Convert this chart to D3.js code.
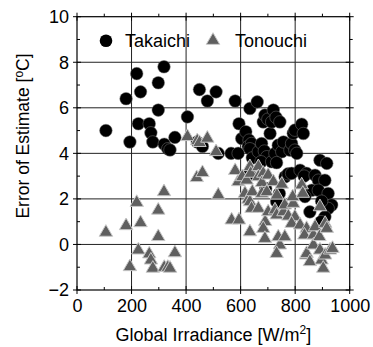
<!DOCTYPE html>
<html>
<head>
<meta charset="utf-8">
<script src="https://cdn.jsdelivr.net/npm/d3@7"></script>
<style>
	body { margin: 0; background: #fff; }
	text { font-family: 'Liberation Sans', Arial, sans-serif; fill: #000; }
</style>
</head>
<body>
<div id="chart"></div>
<script>
// values: [irradiance W/m2, error degC]
const takaichi = [
	[106, 5.0], [180, 6.4], [194, 4.5], [219, 7.5], [225, 5.3], [233, 6.7], [265, 5.3], [271, 4.9],
	[278, 4.5], [298, 7.1], [298, 5.9], [319, 7.8], [320, 4.4], [333, 4.2], [341, 4.15], [359, 4.7],
	[405, 5.6], [449, 6.8], [478, 6.3], [510, 6.7], [441, 4.5], [460, 4.3], [518, 4.0], [565, 4.0],
	[591, 4.0], [580, 6.3], [594, 5.3], [604, 4.65], [619, 4.95], [631, 4.58], [634, 5.97], [628, 4.3],
	[640, 4.43], [646, 4.14], [634, 4.2], [643, 3.8], [632, 3.1], [661, 6.26], [665, 4.07], [677, 4.43],
	[683, 5.38], [689, 5.68], [700, 5.5], [687, 4.1], [696, 3.85], [675, 3.63], [692, 2.46], [708, 4.87],
	[714, 5.38], [720, 5.9], [730, 5.58], [744, 5.38], [714, 3.63], [726, 4.0], [738, 4.36], [751, 4.07],
	[757, 4.5], [732, 3.59], [742, 2.24], [732, 1.87], [763, 2.97], [774, 3.1], [781, 4.14], [787, 4.43],
	[799, 4.14], [806, 4.0], [793, 4.88], [799, 5.02], [824, 5.28], [830, 4.87], [787, 3.12], [818, 3.26],
	[842, 3.12], [833, 3.0], [873, 3.04], [885, 2.82], [909, 2.82], [861, 2.38], [885, 2.38], [921, 2.24],
	[891, 3.7], [916, 3.56], [934, 1.73], [921, 1.58], [897, 1.9], [854, 1.43], [909, 1.21], [895, 1.0],
	[836, 2.1]
];

const tonouchi = [
	[106, 0.53], [180, 0.82], [194, -0.98], [219, 1.84], [225, -0.25], [233, 0.95], [265, -0.42], [271, -0.69],
	[278, -1.05], [298, 1.5], [298, 0.34], [319, 2.31], [320, -1.01], [333, -1.01], [341, -1.05], [359, -0.37],
	[405, 4.73], [441, 4.55], [449, 4.47], [478, 4.66], [439, 2.93], [460, 3.15], [510, 4.07], [518, 2.17],
	[567, 1.07], [594, 1.07], [580, 3.24], [591, 2.75], [606, 2.97], [616, 2.24], [622, 2.82], [634, 3.41],
	[637, 3.12], [628, 1.98], [634, 1.87], [640, 1.58], [643, 2.31], [665, 1.58], [634, 0.55], [665, 3.41],
	[665, 2.97], [683, 3.12], [678, 2.71], [678, 2.24], [696, 2.31], [690, 1.0], [683, 0.7], [689, 0.26],
	[701, 3.04], [701, 1.43], [720, 2.75], [733, 2.16], [726, 1.51], [732, 1.29], [744, -0.03], [732, -0.4],
	[738, 0.33], [762, 0.33], [751, 2.64], [757, 1.43], [762, 1.73], [775, 1.24], [793, 1.8], [791, 2.09],
	[799, 1.21], [787, 0.92], [818, 0.85], [824, 2.61], [828, 2.24], [842, 0.7], [834, 0.41], [840, -0.47],
	[842, -0.4], [854, -0.76], [867, 0.41], [867, -0.03], [873, 0.77], [889, 0.34], [891, -0.25], [897, -0.69],
	[903, -1.05], [891, 1.65], [910, 0.92], [916, 0.7], [910, -0.47], [928, -0.25], [937, -0.18]
];

const xTicks = [0, 200, 400, 600, 800, 1000];
const yTicks = [-2, 0, 2, 4, 6, 8, 10];
const xMinor = [100, 300, 500, 700, 900];
const yMinor = [-1, 1, 3, 5, 7, 9];

const W = 373, H = 347;
const margin = { top: 16.7, right: 23.3, bottom: 57, left: 77 };
const width = W - margin.left - margin.right;
const height = H - margin.top - margin.bottom;

const svg = d3.select('#chart').append('svg')
	.attr('width', W)
	.attr('height', H);

const g = svg.append('g')
	.attr('transform', `translate(${margin.left},${margin.top})`);

const x = d3.scaleLinear().domain([0, 1000]).range([0, width]);
const y = d3.scaleLinear().domain([-2, 10]).range([height, 0]);

//
// grid
//
g.append('g').selectAll('line')
	.data(xTicks.slice(1, -1))
	.enter().append('line')
	.attr('x1', d => x(d)).attr('x2', d => x(d))
	.attr('y1', 0).attr('y2', height)
	.attr('stroke', '#222').attr('stroke-width', 1);

g.append('g').selectAll('line')
	.data(yTicks.slice(1, -1))
	.enter().append('line')
	.attr('y1', d => y(d)).attr('y2', d => y(d))
	.attr('x1', 0).attr('x2', width)
	.attr('stroke', '#222').attr('stroke-width', 1);

//
// axes
//
const fs = 18;
const font = "'Liberation Sans', Arial, sans-serif";

const xAxis = g.append('g')
	.attr('transform', `translate(0,${height})`)
	.call(d3.axisBottom(x).tickValues(xTicks).tickFormat(d3.format('d')).tickSize(0).tickPadding(9));
xAxis.select('.domain').remove();
xAxis.selectAll('text').style('font-size', fs + 'px').style('font-family', font);

const yAxis = g.append('g')
	.call(d3.axisLeft(y).tickValues(yTicks).tickSize(0).tickPadding(8));
yAxis.select('.domain').remove();
yAxis.selectAll('text').style('font-size', fs + 'px').style('font-family', font);

// major ticks crossing the frame, minor ticks pointing right / up
const tk = g.append('g').attr('stroke', '#000').attr('stroke-width', 1);
xTicks.forEach(d => {
	tk.append('line').attr('x1', x(d)).attr('x2', x(d)).attr('y1', height - 4).attr('y2', height + 4);
	tk.append('line').attr('x1', x(d)).attr('x2', x(d)).attr('y1', -4).attr('y2', 4);
});
yTicks.forEach(d => {
	tk.append('line').attr('y1', y(d)).attr('y2', y(d)).attr('x1', -4).attr('x2', 4);
	tk.append('line').attr('y1', y(d)).attr('y2', y(d)).attr('x1', width - 4).attr('x2', width + 4);
});
xMinor.forEach(d => {
	tk.append('line').attr('x1', x(d)).attr('x2', x(d)).attr('y1', height).attr('y2', height - 3);
	tk.append('line').attr('x1', x(d)).attr('x2', x(d)).attr('y1', 0).attr('y2', -3);
});
yMinor.forEach(d => {
	tk.append('line').attr('y1', y(d)).attr('y2', y(d)).attr('x1', 0).attr('x2', 3);
	tk.append('line').attr('y1', y(d)).attr('y2', y(d)).attr('x1', width).attr('x2', width + 3);
});

g.append('rect')
	.attr('width', width).attr('height', height)
	.attr('fill', 'none').attr('stroke', '#000').attr('stroke-width', 1.2);

//
// points
//
const tri = d3.symbol().type(d3.symbolTriangle).size(78);

g.append('g').selectAll('circle')
	.data(takaichi)
	.enter().append('circle')
	.attr('cx', d => x(d[0]))
	.attr('cy', d => y(d[1]))
	.attr('r', 6.3)
	.attr('fill', '#000')
	.attr('stroke', '#777').attr('stroke-width', 0.5);

g.append('g').selectAll('path')
	.data(tonouchi)
	.enter().append('path')
	.attr('d', tri)
	.attr('transform', d => `translate(${x(d[0])},${y(d[1])})`)
	.attr('fill', '#5f5f5f')
	.attr('stroke', '#c8c8c8').attr('stroke-width', 1);

//
// legend
//
const lg = svg.append('g');
lg.append('circle').attr('cx', 106).attr('cy', 40.7).attr('r', 6.3).attr('fill', '#000');
lg.append('text').attr('x', 125).attr('y', 47).style('font-size', fs + 'px').text('Takaichi');
lg.append('path').attr('d', tri).attr('transform', 'translate(213,40.5)')
	.attr('fill', '#5f5f5f').attr('stroke', '#c8c8c8').attr('stroke-width', 1);
lg.append('text').attr('x', 235).attr('y', 47).style('font-size', fs + 'px').text('Tonouchi');

//
// axis titles
//
const xt = svg.append('text')
	.attr('x', margin.left + width / 2)
	.attr('y', 341)
	.attr('text-anchor', 'middle')
	.style('font-size', '18px');
xt.append('tspan').text('Global Irradiance [W/m');
xt.append('tspan').attr('dy', -7).style('font-size', '12px').text('2');
xt.append('tspan').attr('dy', 7).text(']');

const yt = svg.append('text')
	.attr('transform', 'translate(29,136) rotate(-90)')
	.attr('text-anchor', 'middle')
	.style('font-size', '17.5px');
yt.append('tspan').text('Error of Estimate [');
yt.append('tspan').attr('dy', -6).style('font-size', '12px').text('o');
yt.append('tspan').attr('dy', 6).text('C]');
</script>
</body>
</html>
